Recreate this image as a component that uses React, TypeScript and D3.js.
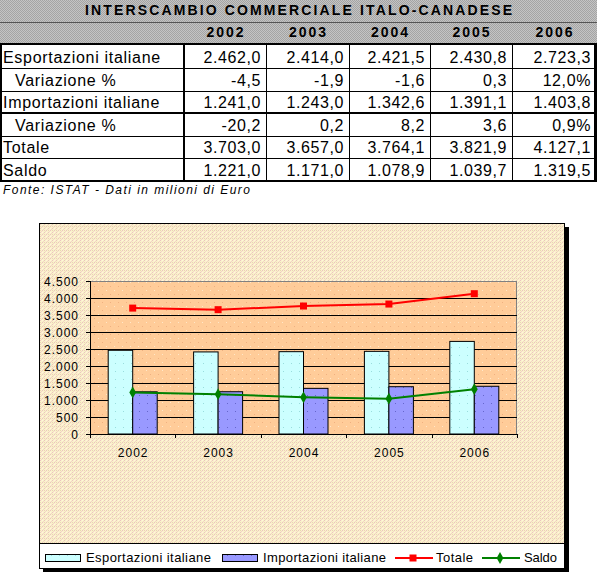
import React from 'react';
import * as d3 from 'd3';

const years = ['2002', '2003', '2004', '2005', '2006'];
const esportazioni = [2462.0, 2414.0, 2421.5, 2430.8, 2723.3];
const variazioneEsp = [-4.5, -1.9, -1.6, 0.3, 12.0];
const importazioni = [1241.0, 1243.0, 1342.6, 1391.1, 1403.8];
const variazioneImp = [-20.2, 0.2, 8.2, 3.6, 0.9];
const totale = [3703.0, 3657.0, 3764.1, 3821.9, 4127.1];
const saldo = [1221.0, 1171.0, 1078.9, 1039.7, 1319.5];
const yTicks = [0, 500, 1000, 1500, 2000, 2500, 3000, 3500, 4000, 4500];

const title = 'INTERSCAMBIO COMMERCIALE ITALO-CANADESE';
const source = 'Fonte: ISTAT - Dati in milioni di Euro';
const legendLabels = ['Esportazioni italiane', 'Importazioni italiane', 'Totale', 'Saldo'];

const locale = d3.formatLocale({ decimal: ',', thousands: '.', grouping: [3], currency: ['€', ''], minus: '-' });
const fmtVal = locale.format(',.1f');
const fmtTick = locale.format(',');

const tableRows = [
  { label: 'Esportazioni italiane', values: esportazioni, indent: false, pct: false },
  { label: 'Variazione %', values: variazioneEsp, indent: true, pct: true },
  { label: 'Importazioni italiane', values: importazioni, indent: false, pct: false },
  { label: 'Variazione %', values: variazioneImp, indent: true, pct: true },
  { label: 'Totale', values: totale, indent: false, pct: false },
  { label: 'Saldo', values: saldo, indent: false, pct: false },
];

const FONT = '"Liberation Sans", Arial, sans-serif';

export default function App() {
  // table layout
  const colX = [0, 184, 266, 349, 430, 512, 596];
  const rowY = [44, 68, 91, 113, 136, 158, 181];
  const thickAfter = new Set([3, 6]);

  // chart layout
  const x = d3.scaleBand<string>().domain(years).range([90, 517]);
  const series = ['exp', 'imp'];
  const x1 = d3.scaleBand<string>().domain(series).range([0, x.bandwidth()]).paddingOuter(0.743);
  const y = d3.scaleLinear().domain([0, 4500]).range([434, 281]);
  const cx = (d: string) => (x(d) as number) + x.bandwidth() / 2;

  const line = d3.line<number>().x((_, i) => cx(years[i])).y((v) => y(v));

  return (
    <svg width={600} height={586} style={{ position: 'absolute', left: 0, top: 0, fontFamily: FONT }}>
      <defs>
        <pattern id="grayPat" width={2} height={2} patternUnits="userSpaceOnUse">
          <rect width={2} height={2} fill="#C4C4C4" />
          <rect width={1} height={1} fill="#A4A4A4" />
          <rect x={1} y={1} width={1} height={1} fill="#A4A4A4" />
        </pattern>
        <pattern id="paperPat" width={4} height={4} patternUnits="userSpaceOnUse">
          <rect width={4} height={4} fill="#FBF0CC" />
          <rect x={0} y={0} width={1} height={1} fill="#EBC6BE" />
          <rect x={2} y={2} width={1} height={1} fill="#EBC6BE" />
          <rect x={1} y={3} width={1} height={1} fill="#F2D8C4" />
          <rect x={3} y={1} width={1} height={1} fill="#F2D8C4" />
          <rect x={2} y={0} width={1} height={1} fill="#FFF8D8" />
          <rect x={0} y={2} width={1} height={1} fill="#E8D8B0" />
        </pattern>
        <pattern id="plotPat" width={8} height={8} patternUnits="userSpaceOnUse">
          <rect width={8} height={8} fill="#FFCC99" />
          <rect x={2} y={2} width={1} height={1} fill="#FFE8C8" />
          <rect x={6} y={6} width={1} height={1} fill="#F0B080" />
        </pattern>
        <pattern id="cyanPat" width={8} height={8} patternUnits="userSpaceOnUse">
          <rect width={8} height={8} fill="#CCFFFF" />
          <rect x={3} y={3} width={1} height={1} fill="#99DDDD" />
        </pattern>
        <pattern id="purplePat" width={8} height={8} patternUnits="userSpaceOnUse">
          <rect width={8} height={8} fill="#9999FF" />
          <rect x={3} y={3} width={1} height={1} fill="#6666CC" />
        </pattern>
      </defs>

      {/* ===== TABLE ===== */}
      <rect x={0} y={0} width={597} height={44} fill="url(#grayPat)" />
      <line x1={0} x2={597} y1={22.5} y2={22.5} stroke="#555" strokeWidth={1} />
      <text x={85} y={15} fontSize={14} fontWeight="bold" textLength={427} lengthAdjust="spacing" fill="#000">
        {title}
      </text>
      {years.map((yr, i) => (
        <text key={yr} x={(colX[i + 1] + colX[i + 2]) / 2 + 1} y={37} fontSize={14} fontWeight="bold"
          textAnchor="middle" letterSpacing={2} fill="#000">
          {yr}
        </text>
      ))}
      <rect x={0} y={44} width={597} height={137} fill="#fff" />
      {tableRows.map((r, ri) => (
        <g key={ri}>
          <text x={r.indent ? 15 : 3} y={rowY[ri + 1] - 5} fontSize={16} letterSpacing={0.7} fill="#000">
            {r.label}
          </text>
          {r.values.map((v, ci) => (
            <text key={ci} x={colX[ci + 2] - 5} y={rowY[ri + 1] - 5} fontSize={16} letterSpacing={0.6}
              textAnchor="end" fill="#000">
              {fmtVal(v) + (r.pct && ci === r.values.length - 1 ? '%' : '')}
            </text>
          ))}
        </g>
      ))}
      {rowY.map((ry, i) => (
        <line key={i} x1={0} x2={597} y1={i === 0 || thickAfter.has(i) ? ry : ry + 0.5}
          y2={i === 0 || thickAfter.has(i) ? ry : ry + 0.5}
          stroke="#000" strokeWidth={i === 0 || thickAfter.has(i) ? 2 : 1} />
      ))}
      {colX.map((cxv, i) => {
        const thick = i === 0 || i === 1 || i === colX.length - 1;
        const xx = i === 0 ? 1 : i === colX.length - 1 ? 595.5 : thick ? cxv : cxv + 0.5;
        return (
          <line key={i} x1={xx} x2={xx} y1={rowY[0]} y2={rowY[rowY.length - 1] + 1}
            stroke="#000" strokeWidth={i === colX.length - 1 ? 3 : thick ? 2 : 1} />
        );
      })}
      <text x={3} y={194} fontSize={12} fontStyle="italic" textLength={247} lengthAdjust="spacing" fill="#000">
        {source}
      </text>

      {/* ===== CHART ===== */}
      <rect x={43} y={227} width={526} height={345} fill="#000" />
      <rect x={39.5} y={223.5} width={525} height={345} fill="url(#paperPat)" stroke="#000" strokeWidth={1} />

      {/* plot area */}
      <rect x={90} y={281} width={427} height={153} fill="url(#plotPat)" />
      <line x1={90} x2={517} y1={281.5} y2={281.5} stroke="#808080" />
      <line x1={516.5} x2={516.5} y1={281} y2={434} stroke="#808080" />
      {yTicks.filter((t) => t > 0 && t < 4500).map((t) => (
        <line key={t} x1={90} x2={517} y1={Math.round(y(t)) + 0.5} y2={Math.round(y(t)) + 0.5} stroke="#000" />
      ))}

      {/* bars */}
      {years.map((yr, i) => (
        <g key={yr}>
          <rect x={(x(yr) as number) + (x1('exp') as number)} y={y(esportazioni[i])}
            width={x1.bandwidth()} height={y(0) - y(esportazioni[i])}
            fill="url(#cyanPat)" stroke="#000" strokeWidth={1} />
          <rect x={(x(yr) as number) + (x1('imp') as number)} y={y(importazioni[i])}
            width={x1.bandwidth()} height={y(0) - y(importazioni[i])}
            fill="url(#purplePat)" stroke="#000" strokeWidth={1} />
        </g>
      ))}

      {/* axes */}
      <line x1={90.5} x2={90.5} y1={281} y2={434} stroke="#000" />
      <line x1={90} x2={518} y1={434.5} y2={434.5} stroke="#000" />
      {yTicks.map((t) => (
        <g key={t}>
          <line x1={86} x2={90} y1={Math.round(y(t)) + 0.5} y2={Math.round(y(t)) + 0.5} stroke="#000" />
          <text x={79} y={y(t) + 4.5} fontSize={12} textAnchor="end" letterSpacing={1} fill="#000">
            {fmtTick(t)}
          </text>
        </g>
      ))}
      {[...years.map((yr) => x(yr) as number), 517].map((tx, i) => (
        <line key={i} x1={Math.round(tx) + 0.5} x2={Math.round(tx) + 0.5} y1={434} y2={438} stroke="#000" />
      ))}
      {years.map((yr) => (
        <text key={yr} x={cx(yr) + 0.5} y={457} fontSize={12} textAnchor="middle" letterSpacing={1} fill="#000">
          {yr}
        </text>
      ))}

      {/* lines */}
      <path d={line(totale) as string} fill="none" stroke="#FF0000" strokeWidth={2} />
      {totale.map((v, i) => (
        <rect key={i} x={cx(years[i]) - 3.5} y={y(v) - 3.5} width={7} height={7} fill="#FF0000" />
      ))}
      <path d={line(saldo) as string} fill="none" stroke="#008000" strokeWidth={2} />
      {saldo.map((v, i) => (
        <path key={i} d={d3.symbol().type(d3.symbolDiamond).size(40)() as string}
          transform={`translate(${cx(years[i])},${y(v)})`} fill="#008000" />
      ))}

      {/* legend */}
      <rect x={39.5} y={543.5} width={525} height={25} fill="#fff" stroke="#000" strokeWidth={1} />
      <rect x={45.5} y={554.5} width={35} height={7} fill="url(#cyanPat)" stroke="#000" />
      <text x={86} y={562} fontSize={13} textLength={125} lengthAdjust="spacing" fill="#000">{legendLabels[0]}</text>
      <rect x={222.5} y={554.5} width={35} height={7} fill="url(#purplePat)" stroke="#000" />
      <text x={263} y={562} fontSize={13} textLength={123} lengthAdjust="spacing" fill="#000">{legendLabels[1]}</text>
      <line x1={395} x2={433} y1={558} y2={558} stroke="#FF0000" strokeWidth={2} />
      <rect x={409.5} y={554.5} width={7} height={7} fill="#FF0000" />
      <text x={436} y={562} fontSize={13} textLength={37} lengthAdjust="spacing" fill="#000">{legendLabels[2]}</text>
      <line x1={482} x2={520} y1={558} y2={558} stroke="#008000" strokeWidth={2} />
      <path d={d3.symbol().type(d3.symbolDiamond).size(40)() as string} transform="translate(500,558)" fill="#008000" />
      <text x={524} y={562} fontSize={13} textLength={33} lengthAdjust="spacing" fill="#000">{legendLabels[3]}</text>
    </svg>
  );
}
